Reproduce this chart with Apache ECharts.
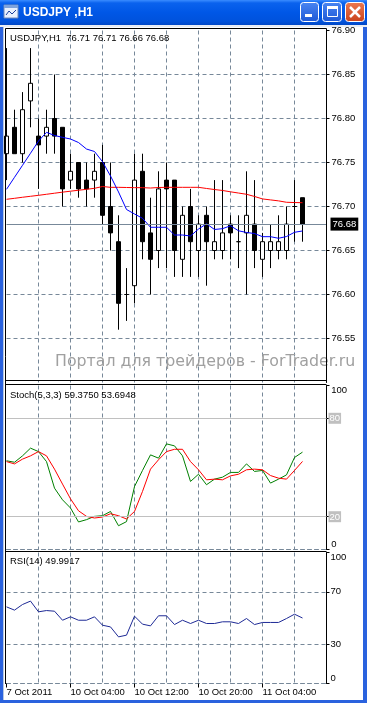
<!DOCTYPE html>
<html><head><meta charset="utf-8">
<script src="https://cdn.jsdelivr.net/npm/echarts@6/dist/echarts.min.js"></script>
<style>html,body{margin:0;padding:0;background:#fff;overflow:hidden}#c{width:367px;height:703px}</style>
</head><body><div id="c"></div>
<script>
// ---------- DATA ----------
const symbolName = 'USDJPY';
const timeframe = 'H1';
const categories = [
  '2011.10.07 20:00','2011.10.07 21:00','2011.10.07 22:00','2011.10.07 23:00',
  '2011.10.10 00:00','2011.10.10 01:00','2011.10.10 02:00','2011.10.10 03:00',
  '2011.10.10 04:00','2011.10.10 05:00','2011.10.10 06:00','2011.10.10 07:00',
  '2011.10.10 08:00','2011.10.10 09:00','2011.10.10 10:00','2011.10.10 11:00',
  '2011.10.10 12:00','2011.10.10 13:00','2011.10.10 14:00','2011.10.10 15:00',
  '2011.10.10 16:00','2011.10.10 17:00','2011.10.10 18:00','2011.10.10 19:00',
  '2011.10.10 20:00','2011.10.10 21:00','2011.10.10 22:00','2011.10.10 23:00',
  '2011.10.11 00:00','2011.10.11 01:00','2011.10.11 02:00','2011.10.11 03:00',
  '2011.10.11 04:00','2011.10.11 05:00','2011.10.11 06:00','2011.10.11 07:00',
  '2011.10.11 08:00','2011.10.11 09:00','2011.10.11 10:00','2011.10.11 11:00',
  '2011.10.11 12:00'
];
const xTickCategories = ['2011.10.07 20:00','2011.10.10 04:00','2011.10.10 12:00','2011.10.10 20:00','2011.10.11 04:00'];
const xTickLabels = ['7 Oct 2011','10 Oct 04:00','10 Oct 12:00','10 Oct 20:00','11 Oct 04:00'];

const openP  = [76.76,76.79,76.76,76.82,76.78,76.78,76.80,76.79,76.73,76.75,76.73,76.73,76.75,76.70,76.66,76.60,76.61,76.74,76.67,76.65,76.73,76.73,76.64,76.70,76.65,76.69,76.65,76.65,76.68,76.66,76.67,76.68,76.64,76.65,76.65,76.65,76.70,76.71];
const highP  = [76.88,76.81,76.83,76.88,76.80,76.81,76.85,76.79,76.76,76.75,76.75,76.76,76.77,76.75,76.69,76.63,76.76,76.76,76.71,76.74,76.75,76.73,76.70,76.72,76.69,76.70,76.73,76.73,76.69,76.69,76.74,76.73,76.67,76.68,76.69,76.70,76.73,76.71];
const lowP   = [76.73,76.76,76.75,76.79,76.72,76.76,76.76,76.70,76.72,76.71,76.70,76.71,76.68,76.65,76.56,76.57,76.59,76.64,76.60,76.63,76.63,76.62,76.62,76.62,76.62,76.61,76.64,76.64,76.64,76.63,76.60,76.63,76.62,76.63,76.64,76.64,76.66,76.66];
const closeP = [76.78,76.76,76.81,76.84,76.77,76.79,76.78,76.72,76.74,76.72,76.72,76.74,76.69,76.67,76.59,76.60,76.73,76.66,76.64,76.72,76.72,76.65,76.69,76.66,76.68,76.66,76.66,76.67,76.67,76.66,76.69,76.65,76.66,76.66,76.66,76.68,76.70,76.68];

const maFast = [76.7195,76.7332,76.7468,76.7605,76.7744,76.7843,76.7807,76.7786,76.7767,76.7727,76.7653,76.7625,76.7509,76.7347,76.7165,76.6966,76.6915,76.6866,76.6764,76.6764,76.6764,76.6676,76.6676,76.6665,76.6744,76.6803,76.6739,76.6748,76.6781,76.6724,76.6705,76.6693,76.6657,76.6657,76.6639,76.6659,76.6707,76.6722];
const maSlow = [76.7082,76.7093,76.7105,76.7116,76.7127,76.7139,76.7151,76.7163,76.7174,76.7185,76.7195,76.7207,76.7227,76.7218,76.7218,76.7216,76.7214,76.7214,76.7210,76.7216,76.7218,76.7218,76.7218,76.7218,76.7218,76.7205,76.7193,76.7182,76.7167,76.7153,76.7139,76.7114,76.7086,76.7075,76.7064,76.7048,76.7045,76.7043];

const stochMain   = [54.1,53.2,57.1,61.8,59.7,53.6,37.4,30.3,25.3,16.8,18.2,20.2,20.6,23.2,14.5,17.0,38.4,48.2,57.7,55.7,64.4,63.2,57.1,41.5,45.9,39.5,42.9,44.1,47.0,47.0,52.2,47.6,48.2,40.5,42.9,45.5,56.1,59.3750];
const stochSignal = [53.6,52.2,55.1,57.1,59.7,57.1,49.0,39.9,30.9,23.6,20.2,19.2,19.8,21.8,20.6,18.6,23.2,35.4,49.0,54.7,59.7,61.1,61.1,53.6,48.6,42.5,42.9,42.5,44.9,45.9,48.6,49.0,48.6,45.1,43.5,42.9,48.2,53.6948];
const stochLevels = [80, 20];
const stochTicks = [0, 20, 80, 100];

const rsiValues = [58.5,56.0,60.3,62.9,54.7,55.7,55.2,48.3,50.9,48.3,48.3,50.9,44.5,43.2,35.6,36.9,51.4,45.3,44.0,51.7,51.7,45.0,48.3,45.8,48.3,45.8,45.8,47.1,47.1,45.8,49.6,45.0,46.6,46.6,46.6,49.6,52.9,49.9917];
const rsiLevels = [70, 30];
const rsiTicks = [0, 30, 70, 100];

const priceMin = 76.50, priceMax = 76.90, priceStep = 0.05;
const watermark = 'Портал для трейдеров - ForTrader.ru';

// ---------- CHART ----------
const FONT = '"Liberation Sans", Arial, sans-serif';
const GRID_COLOR = '#778899';
const last = closeP.length - 1;
const candleData = openP.map((o, i) => [o, closeP[i], lowP[i], highP[i]]);
const lastPrice = closeP[last];

function xAxisFor(gridIndex, extra) {
  return Object.assign({
    type: 'category', gridIndex, data: categories, boundaryGap: false,
    axisLine: { show: false }, axisTick: { show: false }, axisLabel: { show: false },
    splitLine: { show: true, interval: 3, showMinLine: false, showMaxLine: false,
      lineStyle: { color: GRID_COLOR, type: [4, 3], width: 1 } }
  }, extra || {});
}
const axisLabelBase = { color: '#000', fontFamily: FONT, fontSize: 9.5 };

const option = {
  animation: false,
  backgroundColor: '#fff',
  grid: [
    { left: 6.5, width: 320, top: 30.5, height: 352 },
    { left: 6.5, width: 320, top: 385.5, height: 164 },
    { left: 6.5, width: 320, top: 552.5, height: 131 }
  ],
  xAxis: [
    xAxisFor(0),
    xAxisFor(1, { axisLine: { show: true, lineStyle: { color: GRID_COLOR, type: [4, 3] } } }),
    xAxisFor(2, {
      axisLine: { show: true, lineStyle: { color: GRID_COLOR, type: [4, 3] } },
      axisTick: { show: true, length: 4, interval: (i, v) => xTickCategories.includes(v),
        lineStyle: { color: '#000' } },
      axisLabel: Object.assign({}, axisLabelBase, { show: true, align: 'left', margin: 4,
        interval: (i, v) => xTickCategories.includes(v),
        formatter: (v) => { const j = xTickCategories.indexOf(v); return j >= 0 ? xTickLabels[j] : ''; } })
    })
  ],
  yAxis: [
    { type: 'value', gridIndex: 0, position: 'right', min: priceMin, max: priceMax, interval: priceStep,
      axisLine: { show: true, lineStyle: { color: '#000' } },
      axisTick: { show: true, length: 3, lineStyle: { color: '#000' } },
      axisLabel: Object.assign({}, axisLabelBase, { margin: 5, showMinLabel: false, formatter: v => v.toFixed(2) }),
      splitLine: { show: true, showMinLine: false, showMaxLine: false, lineStyle: { color: GRID_COLOR, type: [4, 3] } } },
    { type: 'value', gridIndex: 1, position: 'right', min: 0, max: 100,
      axisLine: { show: true, lineStyle: { color: '#000' } },
      axisTick: { show: true, length: 3, customValues: stochTicks, lineStyle: { color: '#000' } },
      axisLabel: Object.assign({}, axisLabelBase, { margin: 2, customValues: stochTicks,
        verticalAlignMinLabel: 'bottom', verticalAlignMaxLabel: 'top',
        formatter: v => stochLevels.includes(v) ? '{lv|' + v + '}' : ' ' + v,
        rich: { lv: { backgroundColor: '#C0C0C0', color: '#fff', fontFamily: FONT, fontSize: 9.5, padding: [1, 1, 0, 1] } } }),
      splitLine: { show: false } },
    { type: 'value', gridIndex: 2, position: 'right', min: 0, max: 100,
      axisLine: { show: true, lineStyle: { color: '#000' } },
      axisTick: { show: true, length: 3, customValues: rsiTicks, lineStyle: { color: '#000' } },
      axisLabel: Object.assign({}, axisLabelBase, { margin: 4, customValues: rsiTicks,
        verticalAlignMinLabel: 'bottom', verticalAlignMaxLabel: 'top' }),
      splitLine: { show: false } }
  ],
  series: [
    { type: 'candlestick', xAxisIndex: 0, yAxisIndex: 0, data: candleData, barWidth: 4, z: 3,
      itemStyle: { color: '#fff', color0: '#000', borderColor: '#000', borderColor0: '#000', borderColorDoji: '#000', borderWidth: 1 },
      markLine: { silent: true, symbol: ['none', 'none'], animation: false,
        lineStyle: { color: GRID_COLOR, type: 'solid', width: 1 },
        label: { show: true, position: 'end', distance: 4, formatter: () => lastPrice.toFixed(2),
          backgroundColor: '#000', color: '#fff', fontFamily: FONT, fontSize: 9.5, padding: [2, 2, 1, 2] },
        data: [{ yAxis: lastPrice }] } },
    { type: 'line', xAxisIndex: 0, yAxisIndex: 0, data: maSlow, symbol: 'none', z: 4,
      lineStyle: { color: '#FF0000', width: 1 } },
    { type: 'line', xAxisIndex: 0, yAxisIndex: 0, data: maFast, symbol: 'none', z: 4,
      lineStyle: { color: '#0000FF', width: 1 } },
    { type: 'line', xAxisIndex: 1, yAxisIndex: 1, data: stochSignal, symbol: 'none', z: 4,
      lineStyle: { color: '#FF0000', width: 1 } },
    { type: 'line', xAxisIndex: 1, yAxisIndex: 1, data: stochMain, symbol: 'none', z: 3,
      lineStyle: { color: '#008000', width: 1 },
      markLine: { silent: true, symbol: ['none', 'none'], animation: false, label: { show: false },
        lineStyle: { color: '#C0C0C0', type: 'solid', width: 1 },
        data: stochLevels.map(v => ({ yAxis: v })) } },
    { type: 'line', xAxisIndex: 2, yAxisIndex: 2, data: rsiValues, symbol: 'none', z: 4,
      lineStyle: { color: '#1E2A96', width: 1 },
      markLine: { silent: true, symbol: ['none', 'none'], animation: false, label: { show: false },
        lineStyle: { color: GRID_COLOR, type: [4, 3], width: 1 },
        data: rsiLevels.map(v => ({ yAxis: v })) } }
  ],
  graphic: [
    // window title bar
    { type: 'rect', z: 100, shape: { x: 0, y: 0, width: 367, height: 25 },
      style: { fill: new echarts.graphic.LinearGradient(0, 0, 0, 1, [
        { offset: 0, color: '#3A8CFF' }, { offset: 0.12, color: '#0A62EE' },
        { offset: 0.5, color: '#0057E6' }, { offset: 0.85, color: '#0052DC' }, { offset: 1, color: '#0047C6' }]) } },
    { type: 'rect', z: 101, shape: { x: 4, y: 5, width: 14, height: 13 }, style: { fill: '#E8F0FF', stroke: '#6F88B8', lineWidth: 1 } },
    { type: 'rect', z: 101, shape: { x: 4, y: 5, width: 14, height: 3 }, style: { fill: '#7FA3DC' } },
    { type: 'polyline', z: 102, shape: { points: [[6, 15], [9, 11], [12, 14], [16, 10]] }, style: { stroke: '#1A3E9A', lineWidth: 1, fill: null } },
    { type: 'text', z: 101, style: { text: symbolName + ' ,' + timeframe, x: 23, y: 13, fill: '#fff',
      font: 'bold 12px ' + FONT, textVerticalAlign: 'middle', verticalAlign: 'middle',
      shadowColor: '#0A2A7A', shadowOffsetX: 1, shadowOffsetY: 1, shadowBlur: 0 } },
    // buttons
    { type: 'rect', z: 101, shape: { x: 300.5, y: 2.5, width: 18, height: 19, r: 3 },
      style: { fill: new echarts.graphic.LinearGradient(0, 0, 0, 1, [{ offset: 0, color: '#4A86F2' }, { offset: 1, color: '#1D58D6' }]), stroke: '#fff', lineWidth: 1 } },
    { type: 'rect', z: 102, shape: { x: 305, y: 14, width: 7, height: 3 }, style: { fill: '#fff' } },
    { type: 'rect', z: 101, shape: { x: 322.5, y: 2.5, width: 19, height: 19, r: 3 },
      style: { fill: new echarts.graphic.LinearGradient(0, 0, 0, 1, [{ offset: 0, color: '#4A86F2' }, { offset: 1, color: '#1D58D6' }]), stroke: '#fff', lineWidth: 1 } },
    { type: 'rect', z: 102, shape: { x: 327.5, y: 6.5, width: 10, height: 10 }, style: { fill: null, stroke: '#fff', lineWidth: 1 } },
    { type: 'rect', z: 102, shape: { x: 327, y: 6, width: 11, height: 3 }, style: { fill: '#fff' } },
    { type: 'rect', z: 101, shape: { x: 345.5, y: 2.5, width: 19, height: 19, r: 3 },
      style: { fill: new echarts.graphic.LinearGradient(0, 0, 0, 1, [{ offset: 0, color: '#EC7A52' }, { offset: 1, color: '#C9421C' }]), stroke: '#fff', lineWidth: 1 } },
    { type: 'line', z: 102, shape: { x1: 350, y1: 7, x2: 360, y2: 17 }, style: { stroke: '#fff', lineWidth: 2.5 } },
    { type: 'line', z: 102, shape: { x1: 360, y1: 7, x2: 350, y2: 17 }, style: { stroke: '#fff', lineWidth: 2.5 } },
    // window borders
    { type: 'rect', z: 100, shape: { x: 0, y: 25, width: 3, height: 678 }, style: { fill: '#2A62DE' } },
    { type: 'rect', z: 100, shape: { x: 3, y: 25, width: 1, height: 678 }, style: { fill: '#B8C8E0' } },
    { type: 'rect', z: 100, shape: { x: 363, y: 25, width: 4, height: 678 }, style: { fill: '#2A62DE' } },
    { type: 'rect', z: 100, shape: { x: 0, y: 700, width: 367, height: 3 }, style: { fill: '#2A62DE' } },
    { type: 'rect', z: 100, shape: { x: 0, y: 25, width: 367, height: 2 }, style: { fill: '#E8ECF4' } },
    // panel frames
    { type: 'line', z: 90, shape: { x1: 5.5, y1: 28.5, x2: 5.5, y2: 684 }, style: { stroke: '#000', lineWidth: 1 } },
    { type: 'line', z: 90, shape: { x1: 5.5, y1: 28.5, x2: 326.5, y2: 28.5 }, style: { stroke: '#000', lineWidth: 1 } },
    { type: 'line', z: 90, shape: { x1: 326.5, y1: 28.5, x2: 326.5, y2: 381 }, style: { stroke: '#000', lineWidth: 1 } },
    { type: 'line', z: 90, shape: { x1: 5.5, y1: 380.5, x2: 326.5, y2: 380.5 }, style: { stroke: '#000', lineWidth: 1 } },
    { type: 'line', z: 90, shape: { x1: 5.5, y1: 384.5, x2: 326.5, y2: 384.5 }, style: { stroke: '#000', lineWidth: 1 } },
    { type: 'line', z: 90, shape: { x1: 5.5, y1: 551.5, x2: 326.5, y2: 551.5 }, style: { stroke: '#000', lineWidth: 1 } },
    // panel titles
    { type: 'text', z: 90, style: { text: symbolName + ',' + timeframe + '  ' + openP[last].toFixed(2) + ' ' + highP[last].toFixed(2) + ' ' + lowP[last].toFixed(2) + ' ' + closeP[last].toFixed(2),
      x: 10, y: 38, fill: '#000', font: '9.5px ' + FONT, textVerticalAlign: 'middle', verticalAlign: 'middle' } },
    { type: 'text', z: 90, style: { text: 'Stoch(5,3,3) ' + stochMain[last].toFixed(4) + ' ' + stochSignal[last].toFixed(4),
      x: 10, y: 395, fill: '#000', font: '9.5px ' + FONT, textVerticalAlign: 'middle', verticalAlign: 'middle' } },
    { type: 'text', z: 90, style: { text: 'RSI(14) ' + rsiValues[last].toFixed(4),
      x: 10, y: 561.5, fill: '#000', font: '9.5px ' + FONT, textVerticalAlign: 'middle', verticalAlign: 'middle' } },
    { type: 'text', z: 1, style: { text: watermark, x: 55, y: 362, fill: '#A0A0A0',
      font: '15.8px "DejaVu Sans", sans-serif', textVerticalAlign: 'middle', verticalAlign: 'middle' } }
  ]
};
const chart = echarts.init(document.getElementById('c'));
chart.setOption(option);
</script>
</body></html>
